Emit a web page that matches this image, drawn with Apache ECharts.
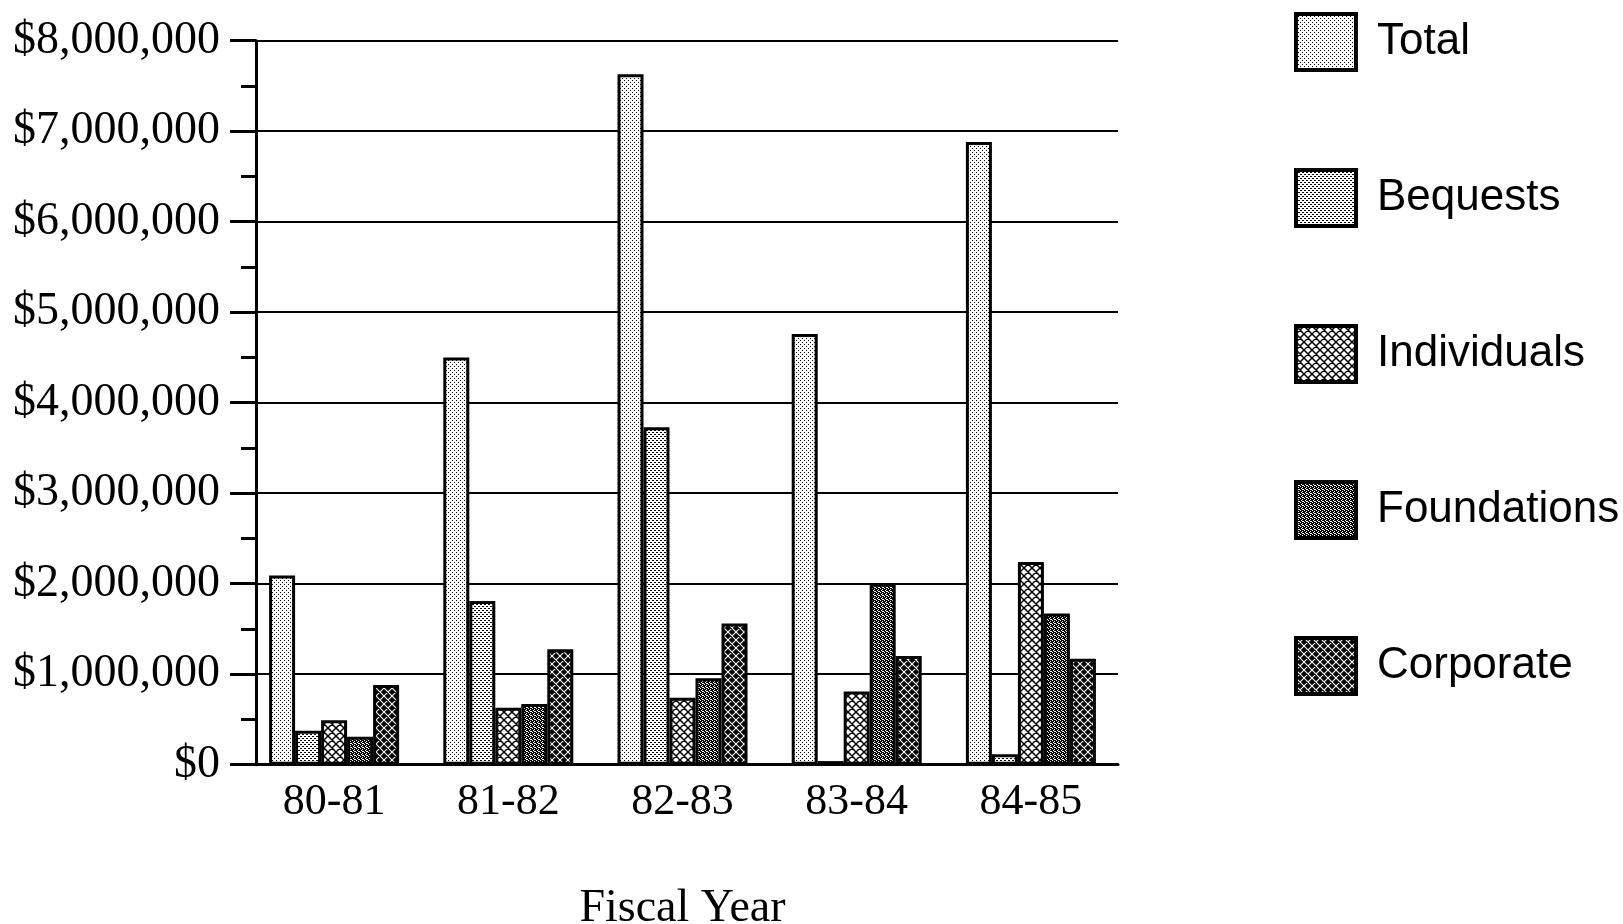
<!DOCTYPE html>
<html>
<head>
<meta charset="utf-8">
<script src="https://cdn.jsdelivr.net/npm/echarts@6/dist/echarts.min.js"></script>
<style>
  html, body { margin: 0; padding: 0; background: #fff; }
  #chart { width: 1623px; height: 924px; }
</style>
</head>
<body>
<div id="chart"></div>
<script>
// Fiscal years on the x axis
const years = ['80-81', '81-82', '82-83', '83-84', '84-85'];

// Giving by source, in dollars
const total       = [2090000, 4500000, 7630000, 4760000, 6880000];
const bequests    = [375000, 1810000, 3730000, 40000, 115000];
const individuals = [490000, 630000, 740000, 810000, 2240000];
const foundations = [310000, 670000, 955000, 2000000, 1670000];
const corporate   = [880000, 1275000, 1560000, 1200000, 1170000];

const seriesNames = ['Total', 'Bequests', 'Individuals', 'Foundations', 'Corporate'];

// Tiny repeating canvas tiles used as fill patterns
function tile(w, h, draw) {
  const c = document.createElement('canvas');
  c.width = w; c.height = h;
  const g = c.getContext('2d');
  g.fillStyle = '#fff';
  g.fillRect(0, 0, w, h);
  draw(g, w, h);
  return { image: c, repeat: 'repeat' };
}
function px(g, pts, color) {
  g.fillStyle = color || '#000';
  pts.forEach(p => g.fillRect(p[0], p[1], 1, 1));
}
function hatch(g, w, h, color, lw) {
  g.strokeStyle = color;
  g.lineWidth = lw;
  g.beginPath();
  for (let k = -1; k <= 1; k++) {
    g.moveTo(k * w, 0); g.lineTo(k * w + w, h);
    g.moveTo(k * w + w, 0); g.lineTo(k * w, h);
  }
  g.stroke();
}

const patterns = [
  // light stipple
  tile(4, 4, g => px(g, [[0, 0], [2, 2]])),
  // denser stipple
  tile(4, 4, g => px(g, [[0, 0], [1, 0], [2, 2], [3, 2]])),
  // open cross-hatch
  tile(8, 8, (g, w, h) => hatch(g, w, h, '#000', 1.5)),
  // dark fine texture
  tile(4, 4, g => {
    g.fillStyle = '#000'; g.fillRect(0, 0, 4, 4);
    px(g, [[0, 0], [2, 1], [1, 2], [3, 3], [2, 3]], '#fff');
  }),
  // dark cross-hatch with a white lattice
  tile(8, 8, (g, w, h) => { g.fillStyle = '#000'; g.fillRect(0, 0, w, h); hatch(g, w, h, '#fff', 1.1); })
];

const values = [total, bequests, individuals, foundations, corporate];

const chart = echarts.init(document.getElementById('chart'), null, { renderer: 'canvas' });

chart.setOption({
  animation: false,
  backgroundColor: '#fff',
  grid: { left: 247, right: 505, top: 40.7, bottom: 159.3, containLabel: false, outerBoundsMode: 'none' },
  legend: {
    orient: 'vertical',
    left: 1294,
    top: 12,
    padding: 0,
    itemWidth: 60,
    itemHeight: 56,
    itemGap: 96,
    icon: 'rect',
    itemStyle: { borderColor: '#000', borderWidth: 4 },
    textStyle: { fontFamily: 'Liberation Sans', fontSize: 44, color: '#000', padding: [0, 0, 0, 16] },
    data: seriesNames
  },
  xAxis: {
    type: 'category',
    data: years,
    name: 'Fiscal Year',
    nameLocation: 'middle',
    nameGap: 121,
    nameTextStyle: { fontFamily: 'Liberation Serif', fontSize: 46, color: '#000' },
    axisLine: { show: true, lineStyle: { color: '#000', width: 3 } },
    axisTick: { show: false },
    axisLabel: { fontFamily: 'Liberation Serif', fontSize: 44, color: '#000', margin: 16 }
  },
  yAxis: {
    type: 'value',
    min: 0,
    max: 8000000,
    interval: 1000000,
    offset: -9,
    axisLine: { show: true, lineStyle: { color: '#000', width: 3 } },
    axisTick: { show: true, length: 26, lineStyle: { color: '#000', width: 3 } },
    minorTick: { show: true, splitNumber: 2, length: 15, lineStyle: { color: '#000', width: 3 } },
    splitLine: { show: true, lineStyle: { color: '#000', width: 2 } },
    axisLabel: {
      fontFamily: 'Liberation Serif',
      fontSize: 46,
      color: '#000',
      margin: 36,
      formatter: v => '$' + v.toLocaleString('en-US')
    }
  },
  series: seriesNames.map((name, i) => ({
    name: name,
    type: 'bar',
    data: values[i],
    barWidth: 26,
    barGap: '0%',
    itemStyle: { color: patterns[i], borderColor: '#000', borderWidth: 3 }
  }))
});
</script>
</body>
</html>
